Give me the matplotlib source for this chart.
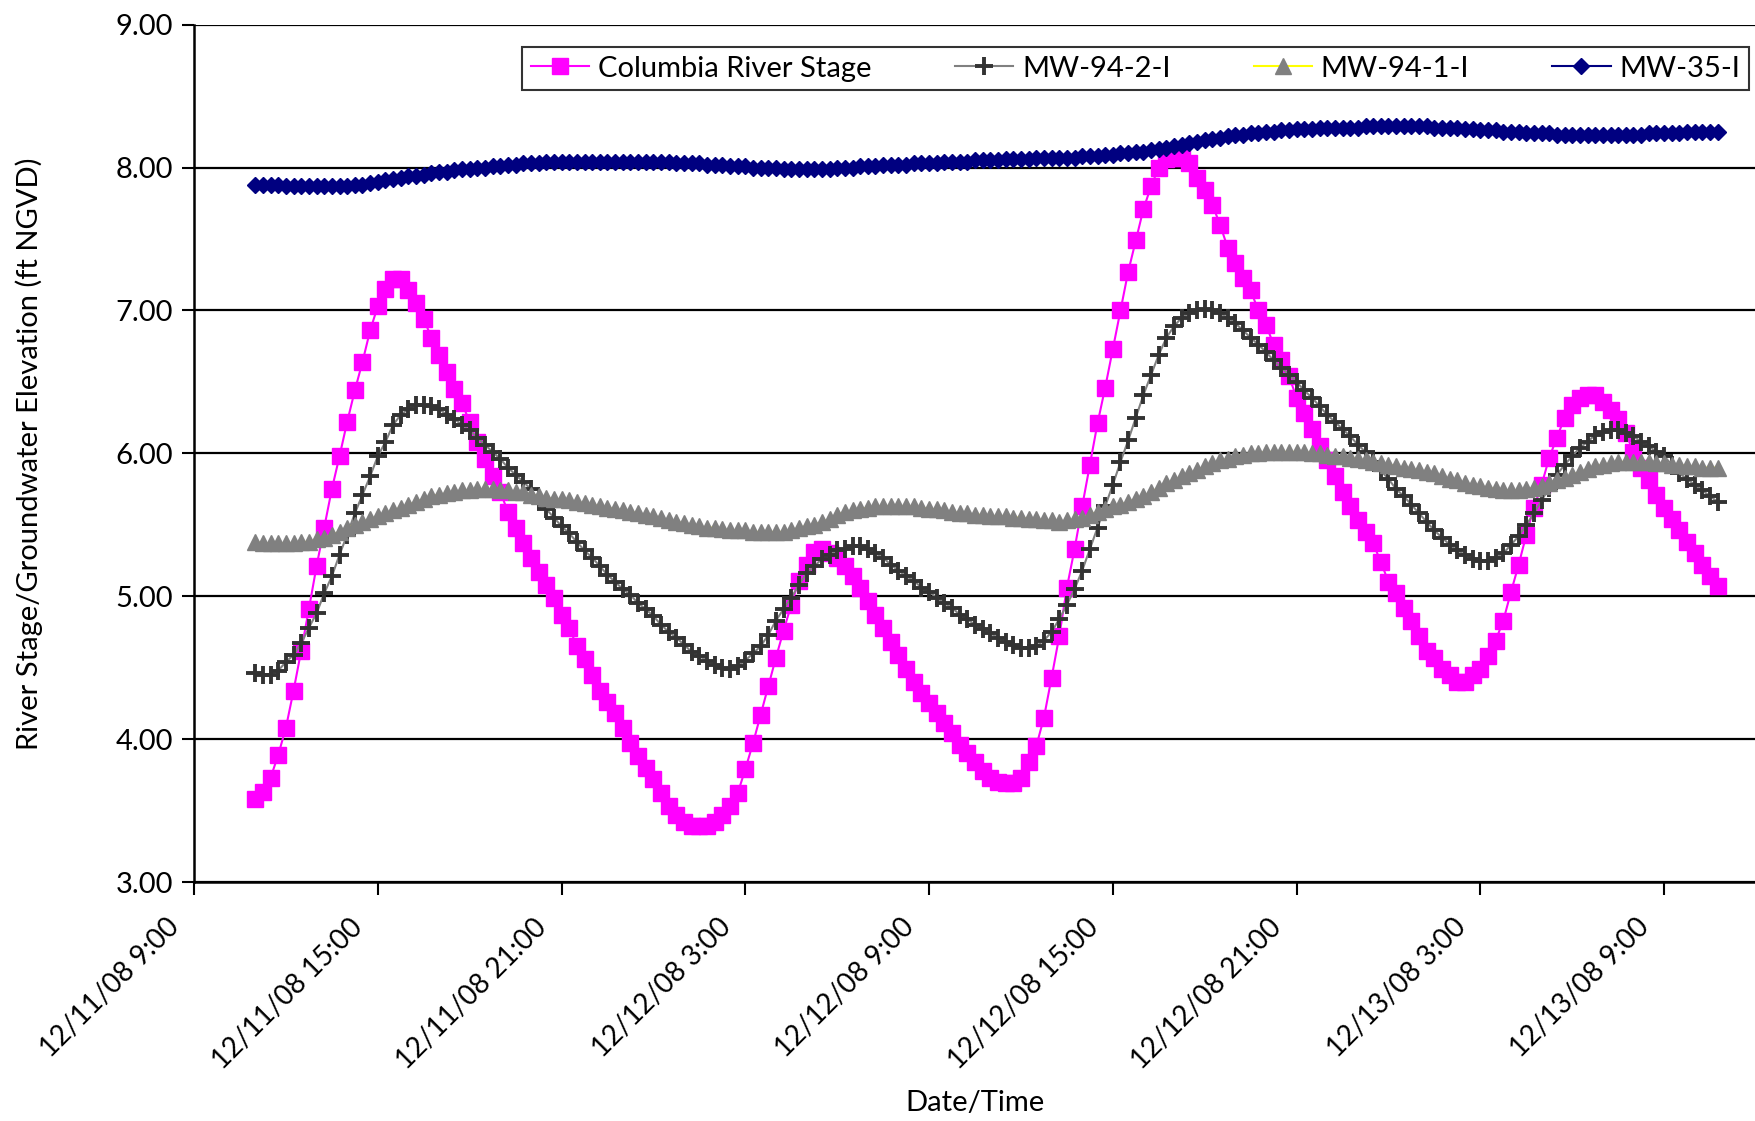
import pandas as pd
import matplotlib
matplotlib.use('Agg')
import matplotlib.pyplot as plt
from matplotlib.transforms import ScaledTranslation

plt.rcParams['font.family'] = ['Lato', 'DejaVu Sans']

# readings every 15 minutes, first one at 12/11/08 11:00
start_time = '2008-12-11 11:00'
step = '15min'

river_stage = [
    3.58, 3.63, 3.73, 3.89, 4.08, 4.34, 4.62, 4.91, 5.21, 5.48,
    5.75, 5.98, 6.22, 6.44, 6.64, 6.86, 7.03, 7.15, 7.22, 7.22,
    7.14, 7.05, 6.94, 6.81, 6.69, 6.57, 6.45, 6.35, 6.22, 6.08,
    5.96, 5.84, 5.73, 5.59, 5.48, 5.37, 5.27, 5.17, 5.08, 4.99,
    4.87, 4.78, 4.65, 4.56, 4.45, 4.34, 4.26, 4.18, 4.08, 3.97,
    3.88, 3.80, 3.72, 3.62, 3.53, 3.47, 3.42, 3.39, 3.39, 3.39,
    3.42, 3.47, 3.53, 3.62, 3.79, 3.97, 4.17, 4.37, 4.57, 4.76,
    4.94, 5.11, 5.22, 5.31, 5.33, 5.30, 5.27, 5.21, 5.14, 5.06,
    4.97, 4.87, 4.78, 4.68, 4.59, 4.49, 4.40, 4.32, 4.25, 4.18,
    4.11, 4.04, 3.96, 3.90, 3.84, 3.78, 3.73, 3.70, 3.69, 3.69,
    3.73, 3.84, 3.95, 4.15, 4.43, 4.72, 5.06, 5.33, 5.63, 5.92,
    6.21, 6.46, 6.73, 7.00, 7.27, 7.49, 7.71, 7.87, 8.00, 8.06,
    8.07, 8.07, 8.03, 7.93, 7.84, 7.74, 7.60, 7.44, 7.33, 7.23,
    7.14, 7.00, 6.90, 6.76, 6.65, 6.54, 6.39, 6.28, 6.17, 6.05,
    5.95, 5.84, 5.73, 5.63, 5.53, 5.45, 5.37, 5.24, 5.10, 5.02,
    4.92, 4.83, 4.72, 4.62, 4.57, 4.49, 4.45, 4.40, 4.40, 4.45,
    4.49, 4.58, 4.69, 4.83, 5.03, 5.22, 5.43, 5.62, 5.78, 5.97,
    6.11, 6.25, 6.34, 6.39, 6.41, 6.41, 6.36, 6.30, 6.24, 6.14,
    6.01, 5.90, 5.81, 5.71, 5.62, 5.54, 5.46, 5.38, 5.30, 5.22,
    5.14, 5.07,
]

mw_94_2 = [
    4.46, 4.45, 4.45, 4.48, 4.54, 4.59, 4.67, 4.78, 4.88, 5.02,
    5.14, 5.29, 5.43, 5.58, 5.71, 5.84, 5.98, 6.08, 6.20, 6.27,
    6.31, 6.34, 6.34, 6.33, 6.31, 6.27, 6.24, 6.20, 6.16, 6.11,
    6.06, 6.01, 5.96, 5.90, 5.85, 5.80, 5.75, 5.67, 5.61, 5.55,
    5.49, 5.44, 5.38, 5.32, 5.27, 5.21, 5.15, 5.10, 5.05, 5.01,
    4.95, 4.91, 4.86, 4.80, 4.75, 4.71, 4.66, 4.61, 4.58, 4.55,
    4.52, 4.50, 4.49, 4.51, 4.55, 4.60, 4.65, 4.73, 4.83, 4.91,
    4.99, 5.08, 5.16, 5.21, 5.26, 5.29, 5.32, 5.33, 5.35, 5.35,
    5.33, 5.30, 5.27, 5.22, 5.18, 5.14, 5.11, 5.06, 5.03, 4.99,
    4.95, 4.92, 4.87, 4.84, 4.80, 4.77, 4.74, 4.71, 4.68, 4.66,
    4.64, 4.64, 4.65, 4.69, 4.75, 4.84, 4.94, 5.05, 5.18, 5.33,
    5.48, 5.63, 5.78, 5.94, 6.09, 6.25, 6.41, 6.55, 6.69, 6.81,
    6.89, 6.95, 6.98, 7.00, 7.01, 7.00, 6.98, 6.95, 6.91, 6.86,
    6.81, 6.76, 6.71, 6.65, 6.60, 6.55, 6.50, 6.44, 6.39, 6.33,
    6.27, 6.22, 6.17, 6.12, 6.06, 6.01, 5.94, 5.88, 5.82, 5.75,
    5.70, 5.64, 5.58, 5.52, 5.46, 5.41, 5.36, 5.32, 5.29, 5.26,
    5.25, 5.25, 5.27, 5.30, 5.36, 5.42, 5.50, 5.58, 5.67, 5.76,
    5.85, 5.92, 5.98, 6.04, 6.08, 6.13, 6.15, 6.16, 6.16, 6.14,
    6.12, 6.08, 6.05, 6.01, 5.98, 5.92, 5.86, 5.82, 5.78, 5.74,
    5.70, 5.66,
]

mw_94_1 = [
    5.38, 5.37, 5.37, 5.37, 5.37, 5.37, 5.38, 5.38, 5.40, 5.41,
    5.43, 5.45, 5.48, 5.50, 5.52, 5.54, 5.56, 5.58, 5.60, 5.62,
    5.64, 5.66, 5.68, 5.70, 5.71, 5.72, 5.73, 5.74, 5.74, 5.75,
    5.75, 5.75, 5.74, 5.74, 5.73, 5.73, 5.71, 5.70, 5.69, 5.68,
    5.68, 5.67, 5.66, 5.65, 5.64, 5.63, 5.62, 5.61, 5.60, 5.59,
    5.58, 5.57, 5.56, 5.55, 5.53, 5.52, 5.51, 5.50, 5.49, 5.48,
    5.48, 5.47, 5.46, 5.46, 5.46, 5.45, 5.45, 5.45, 5.45, 5.45,
    5.46, 5.48, 5.49, 5.50, 5.52, 5.54, 5.57, 5.59, 5.60, 5.61,
    5.62, 5.63, 5.63, 5.63, 5.63, 5.63, 5.63, 5.62, 5.61, 5.61,
    5.60, 5.59, 5.58, 5.58, 5.57, 5.57, 5.56, 5.56, 5.56, 5.55,
    5.55, 5.54, 5.54, 5.53, 5.53, 5.52, 5.53, 5.54, 5.55, 5.57,
    5.59, 5.61, 5.63, 5.64, 5.66, 5.68, 5.70, 5.73, 5.76, 5.79,
    5.81, 5.84, 5.86, 5.88, 5.91, 5.93, 5.95, 5.96, 5.98, 5.99,
    6.00, 6.00, 6.01, 6.01, 6.01, 6.01, 6.01, 6.01, 6.00, 6.00,
    5.99, 5.98, 5.98, 5.97, 5.96, 5.95, 5.94, 5.93, 5.92, 5.91,
    5.90, 5.89, 5.88, 5.87, 5.86, 5.84, 5.82, 5.81, 5.79, 5.78,
    5.77, 5.76, 5.75, 5.74, 5.74, 5.74, 5.75, 5.76, 5.77, 5.79,
    5.81, 5.83, 5.85, 5.87, 5.89, 5.91, 5.92, 5.93, 5.94, 5.94,
    5.94, 5.94, 5.94, 5.93, 5.93, 5.92, 5.92, 5.91, 5.91, 5.90,
    5.90, 5.90,
]

mw_35 = [
    7.88, 7.88, 7.88, 7.88, 7.87, 7.87, 7.87, 7.87, 7.87, 7.87,
    7.87, 7.87, 7.87, 7.88, 7.88, 7.89, 7.90, 7.91, 7.92, 7.93,
    7.94, 7.94, 7.95, 7.96, 7.97, 7.97, 7.98, 7.99, 7.99, 8.00,
    8.00, 8.01, 8.01, 8.02, 8.02, 8.03, 8.03, 8.03, 8.04, 8.04,
    8.04, 8.04, 8.04, 8.04, 8.04, 8.04, 8.04, 8.04, 8.04, 8.04,
    8.04, 8.04, 8.04, 8.04, 8.04, 8.03, 8.03, 8.03, 8.03, 8.02,
    8.02, 8.02, 8.01, 8.01, 8.01, 8.00, 8.00, 8.00, 8.00, 7.99,
    7.99, 7.99, 7.99, 7.99, 7.99, 7.99, 8.00, 8.00, 8.00, 8.01,
    8.01, 8.01, 8.02, 8.02, 8.02, 8.02, 8.03, 8.03, 8.03, 8.03,
    8.04, 8.04, 8.04, 8.04, 8.05, 8.05, 8.05, 8.05, 8.06, 8.06,
    8.06, 8.06, 8.07, 8.07, 8.07, 8.07, 8.07, 8.07, 8.08, 8.08,
    8.08, 8.09, 8.09, 8.10, 8.10, 8.11, 8.11, 8.12, 8.13, 8.14,
    8.15, 8.16, 8.17, 8.18, 8.19, 8.20, 8.21, 8.22, 8.23, 8.23,
    8.24, 8.24, 8.25, 8.25, 8.26, 8.26, 8.27, 8.27, 8.27, 8.28,
    8.28, 8.28, 8.28, 8.28, 8.28, 8.29, 8.29, 8.29, 8.29, 8.29,
    8.29, 8.29, 8.29, 8.29, 8.28, 8.28, 8.28, 8.28, 8.27, 8.27,
    8.26, 8.26, 8.26, 8.25, 8.25, 8.25, 8.24, 8.24, 8.24, 8.24,
    8.23, 8.23, 8.23, 8.23, 8.23, 8.23, 8.23, 8.23, 8.23, 8.23,
    8.23, 8.23, 8.24, 8.24, 8.24, 8.24, 8.24, 8.25, 8.25, 8.25,
    8.25, 8.25,
]

tick_times = ['2008-12-11 09:00', '2008-12-11 15:00', '2008-12-11 21:00',
              '2008-12-12 03:00', '2008-12-12 09:00', '2008-12-12 15:00',
              '2008-12-12 21:00', '2008-12-13 03:00', '2008-12-13 09:00']
tick_labels = ['12/11/08 9:00', '12/11/08 15:00', '12/11/08 21:00',
               '12/12/08 3:00', '12/12/08 9:00', '12/12/08 15:00',
               '12/12/08 21:00', '12/13/08 3:00', '12/13/08 9:00']
x_range = ('2008-12-11 09:00', '2008-12-13 12:00')

times = pd.date_range(start_time, periods=len(river_stage), freq=step)

fig = plt.figure(figsize=(17.56, 11.21), dpi=100)
ax = fig.add_axes([0.1105, 0.2132, 0.8895, 0.7648])

ax.plot(times, river_stage, color='#FF00FF', lw=1.5, marker='s', ms=11.5,
        mec='#FF00FF', mfc='#FF00FF', label='Columbia River Stage', zorder=3)
ax.plot(times, mw_94_2, color='#808080', lw=1.5, marker='+', ms=13, mew=2.8,
        mec='#333333', label='MW-94-2-I', zorder=4)
ax.plot(times, mw_94_1, color='#FFFF00', lw=1.5, marker='^', ms=11,
        mec='#808080', mfc='#808080', label='MW-94-1-I', zorder=5)
ax.plot(times, mw_35, color='#000080', lw=1.5, marker='D', ms=8,
        mec='#000080', mfc='#000080', label='MW-35-I', zorder=6)

ax.set_xlim(pd.Timestamp(x_range[0]), pd.Timestamp(x_range[1]))
ax.set_ylim(3, 9)
ax.set_yticks(range(3, 10))
ax.set_yticklabels(['%.2f' % v for v in range(3, 10)])
ax.set_xticks(pd.to_datetime(tick_times))
ax.set_xticklabels(tick_labels, rotation=45, ha='right',
                   rotation_mode='anchor')

ax.grid(axis='y', color='black', lw=1.6)
ax.set_axisbelow(True)
for side in ['top', 'right']:
    ax.spines[side].set_visible(False)
for side in ['left', 'bottom']:
    ax.spines[side].set_linewidth(1.8)
ax.tick_params(axis='both', direction='out', length=9, width=1.5,
               labelsize=21, pad=6)
ax.tick_params(axis='x', pad=14, labelsize=20)

# pull the slanted labels left so they end just before their tick
# (done after tick_params, which resets the label transforms)
shift = ScaledTranslation(-28 / 100, 0, fig.dpi_scale_trans)
for lbl in ax.get_xticklabels():
    lbl.set_transform(lbl.get_transform() + shift)

ax.set_xlabel('Date/Time', fontsize=21)
ax.xaxis.set_label_coords(0.5, -0.243)
ax.set_ylabel('River Stage/Groundwater Elevation (ft NGVD)', fontsize=21)
ax.yaxis.set_label_coords(-0.097, 0.5)

leg = ax.legend(loc='upper right', bbox_to_anchor=(0.9955, 0.974),
                ncol=4, fontsize=21, frameon=True, fancybox=False,
                borderaxespad=0, handlelength=2.0, handletextpad=0.3,
                columnspacing=2.85, borderpad=0.3)
leg.get_frame().set_edgecolor('black')
leg.get_frame().set_linewidth(1.5)

fig.savefig('out.png', dpi=100)
